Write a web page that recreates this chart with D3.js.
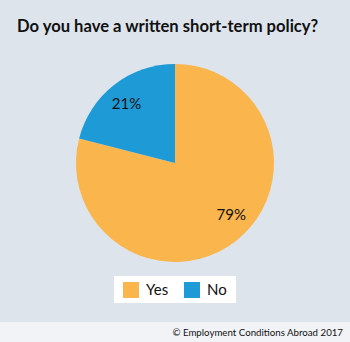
<!DOCTYPE html>
<html>
<head>
<meta charset="utf-8">
<script src="https://cdn.jsdelivr.net/npm/d3@7"></script>
<style>
  body { margin: 0; background: #dde4ec; }
  svg { display: block; font-family: Lato, "Open Sans", sans-serif; }
</style>
</head>
<body>
<svg id="chart"></svg>
<script>
const categories = ["Yes", "No"];
const values = [79, 21];
const colors = ["#fab54c", "#1e9ad6"];

const width = 350, height = 342;
const svg = d3.select("#chart").attr("width", width).attr("height", height);

svg.append("rect").attr("width", width).attr("height", height).attr("fill", "#dde4ec");
svg.append("rect").attr("y", 322).attr("width", width).attr("height", 20).attr("fill", "#f2f3f7");

svg.append("text")
  .attr("x", 17).attr("y", 32)
  .style("font-size", "16.6px").style("font-weight", "700").style("fill", "#111")
  .text("Do you have a written short-term policy?");

const data = categories.map((c, i) => ({ cat: c, value: values[i] }));
const color = d3.scaleOrdinal().domain(categories).range(colors);

const cx = 175, cy = 163, r = 99;
const pie = d3.pie().value(d => d.value).sort(null);
const arc = d3.arc().innerRadius(0).outerRadius(r);

const g = svg.append("g").attr("transform", `translate(${cx},${cy})`);
const arcs = pie(data);
g.selectAll("path").data(arcs).join("path")
  .attr("d", arc).attr("fill", d => color(d.data.cat));

// labels sit a bit off the mid angle, like the original layout
const labelR = r * 0.77;
const labelAngle = d => (d.startAngle + d.endAngle) / 2 - (d.index === 0 ? 0.17 : 0.03);
g.selectAll("text").data(arcs).join("text")
  .attr("x", d => labelR * Math.sin(labelAngle(d)))
  .attr("y", d => -labelR * Math.cos(labelAngle(d)))
  .attr("text-anchor", "middle").attr("dy", "0.35em")
  .style("font-size", "15px").style("fill", "#111")
  .text(d => d.data.value + "%");

// legend
const lg = svg.append("g");
lg.append("rect").attr("x", 114).attr("y", 276).attr("width", 122).attr("height", 27).attr("fill", "#fff");
const item = lg.selectAll("g.item").data(categories).join("g")
  .attr("class", "item")
  .attr("transform", (d, i) => `translate(${123 + i * 61},282)`);
item.append("rect").attr("width", 16).attr("height", 16).attr("fill", d => color(d));
item.append("text").attr("x", 23).attr("y", 8).attr("dy", "0.35em")
  .style("font-size", "15px").style("fill", "#111").text(d => d);

svg.append("text")
  .attr("x", 343).attr("y", 336).attr("text-anchor", "end")
  .style("font-size", "9.7px").style("fill", "#111")
  .text("© Employment Conditions Abroad 2017");
</script>
</body>
</html>
